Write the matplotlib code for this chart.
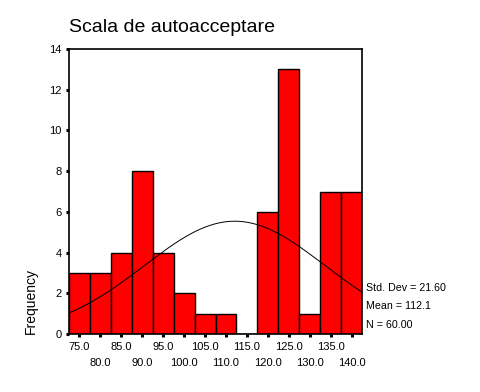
import numpy as np
import matplotlib
matplotlib.use("Agg")
import matplotlib.pyplot as plt

plt.rcParams['font.family'] = ['Liberation Sans', 'DejaVu Sans']

# histogram data (bin midpoints, width 5)
bin_centers = [75, 80, 85, 90, 95, 100, 105, 110, 115, 120, 125, 130, 135, 140]
counts = [3, 3, 4, 8, 4, 2, 1, 1, 0, 6, 13, 1, 7, 7]
bin_width = 5
std_dev = 21.60
mean = 112.1
n = 60

fig = plt.figure(figsize=(4.8, 3.92), dpi=100)
ax = fig.add_axes([69 / 480, 58 / 392, 293 / 480, 285 / 392])

ax.bar(bin_centers, counts, width=bin_width, color='#ff0000',
       edgecolor='black', linewidth=1.0, zorder=2)

# normal curve scaled to counts
lo = bin_centers[0] - bin_width / 2
hi = bin_centers[-1] + bin_width / 2
xs = np.linspace(lo, hi, 200)
ys = n * bin_width / (std_dev * np.sqrt(2 * np.pi)) * np.exp(-0.5 * ((xs - mean) / std_dev) ** 2)
ax.plot(xs, ys, color='black', linewidth=0.7, zorder=3)

ax.set_xlim(lo, hi)
ax.set_ylim(0, 14)
ax.set_yticks(range(0, 15, 2))
ax.tick_params(axis='y', direction='out', length=2.2, width=2.2, pad=3, labelsize=8)

# staggered x tick labels
ax.set_xticks(bin_centers[0::2])
ax.set_xticklabels([f"{v:.1f}" for v in bin_centers[0::2]])
ax.set_xticks(bin_centers[1::2], minor=True)
ax.set_xticklabels([f"{v:.1f}" for v in bin_centers[1::2]], minor=True)
ax.tick_params(axis='x', which='major', direction='out', length=2, width=2.2, pad=3.5, labelsize=8)
ax.tick_params(axis='x', which='minor', direction='out', length=2, width=2.2, pad=15, labelsize=8)

for s in ax.spines.values():
    s.set_linewidth(1.2)

fig.text(69 / 480, 1 - 32 / 392, 'Scala de autoacceptare', fontsize=14,
         ha='left', va='baseline')
fig.text(31 / 480, 58 / 392, 'Frequency', rotation=90, fontsize=10,
         ha='center', va='bottom')

stats = [f"Std. Dev = {std_dev:.2f}", f"Mean = {mean:.1f}", f"N = {n:.2f}"]
for txt, y in zip(stats, [288, 306, 325]):
    fig.text(366 / 480, 1 - y / 392, txt, fontsize=7.7, ha='left', va='center')

fig.savefig('out.png', dpi=100)
